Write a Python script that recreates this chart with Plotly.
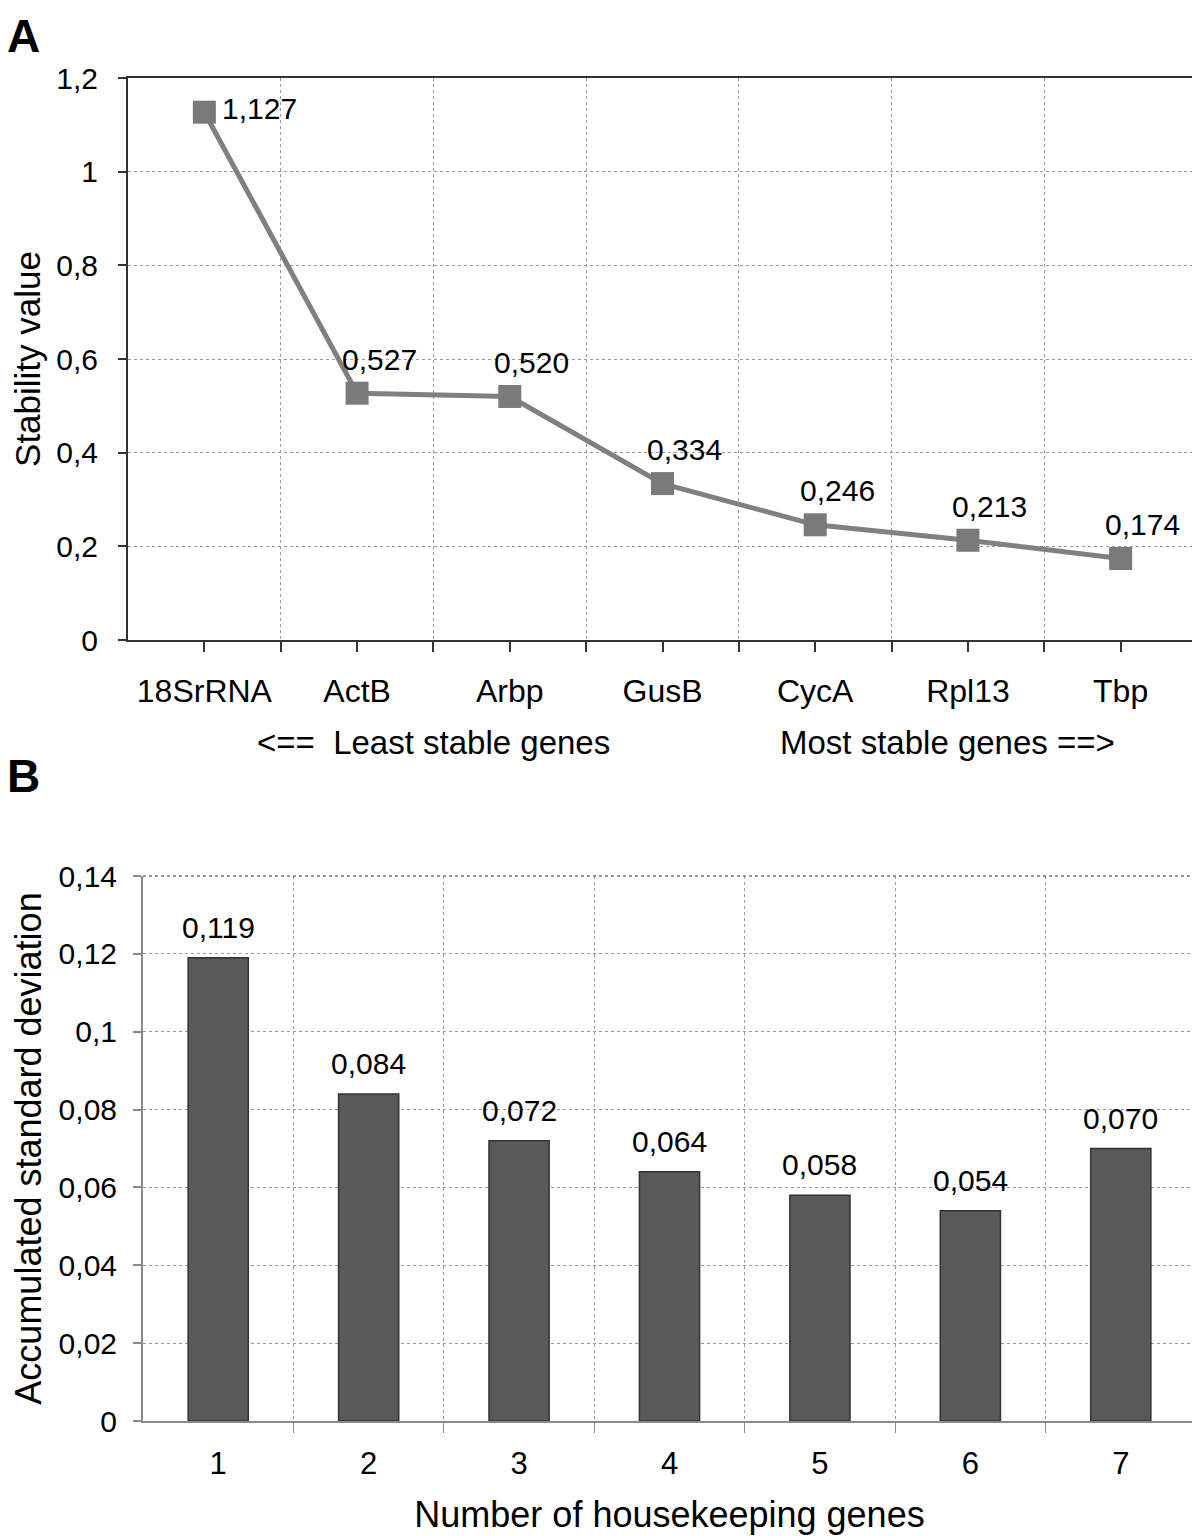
import plotly.graph_objects as go

# Panel A: gene stability values (least -> most stable)
genes = ["18SrRNA", "ActB", "Arbp", "GusB", "CycA", "Rpl13", "Tbp"]
stability = [1.127, 0.527, 0.520, 0.334, 0.246, 0.213, 0.174]

# Panel B: accumulated standard deviation per number of housekeeping genes
n_genes = [1, 2, 3, 4, 5, 6, 7]
acc_sd = [0.119, 0.084, 0.072, 0.064, 0.058, 0.054, 0.070]

# page body has an 8px margin, so the figure is a bit smaller than the window
OFF = 8
W, H = 1200 - OFF, 1536 - OFF
FONT = "Liberation Sans, Arial, Helvetica, sans-serif"


def px_x(v):
    return (v - OFF) / W


def px_y(v):
    return 1 - (v - OFF) / H


def fmt(v):
    return f"{v:.3f}".replace(".", ",")


gene_pos = list(range(len(genes)))

fig = go.Figure()

fig.add_trace(go.Scatter(
    x=gene_pos, y=stability,
    mode="lines+markers",
    line=dict(color="#808080", width=5),
    marker=dict(symbol="square", size=23, color="#7a7a7a"),
    xaxis="x", yaxis="y",
    showlegend=False,
))

fig.add_trace(go.Bar(
    x=n_genes, y=acc_sd,
    width=0.4,
    marker=dict(color="#595959", line=dict(color="#333333", width=1.5)),
    xaxis="x2", yaxis="y2",
    showlegend=False,
))

annotations = []
# value labels panel A
for i, (p, v) in enumerate(zip(gene_pos, stability)):
    if i == 0:
        annotations.append(dict(x=p, y=v, xref="x", yref="y", text=fmt(v),
                                showarrow=False, xanchor="left", xshift=16,
                                yshift=4, font=dict(size=30)))
    else:
        annotations.append(dict(x=p, y=v, xref="x", yref="y", text=fmt(v),
                                showarrow=False, xshift=22, yshift=34,
                                font=dict(size=30)))
# value labels panel B
for n, v in zip(n_genes, acc_sd):
    annotations.append(dict(x=n, y=v, xref="x2", yref="y2", text=fmt(v),
                            showarrow=False, yanchor="bottom", yshift=12,
                            font=dict(size=30)))

# stability direction labels under panel A
annotations.append(dict(x=px_x(433), y=px_y(742), xref="paper", yref="paper",
                        text="<==  Least stable genes", showarrow=False,
                        xanchor="center", yanchor="middle",
                        font=dict(size=33)))
annotations.append(dict(x=px_x(947), y=px_y(742), xref="paper", yref="paper",
                        text="Most stable genes ==>", showarrow=False,
                        xanchor="center", yanchor="middle",
                        font=dict(size=33)))
# panel letters
annotations.append(dict(x=px_x(5), y=px_y(8), xref="paper", yref="paper",
                        text="<b>A</b>", showarrow=False, xanchor="left",
                        yanchor="top", font=dict(size=46)))
annotations.append(dict(x=px_x(5), y=px_y(748), xref="paper", yref="paper",
                        text="<b>B</b>", showarrow=False, xanchor="left",
                        yanchor="top", font=dict(size=46)))

grid = dict(showgrid=True, gridcolor="#9a9a9a", griddash="dot", gridwidth=1)

# dotted frame on top / right of panel B
shapes = [
    dict(type="line", xref="x2 domain", yref="y2 domain", x0=0, x1=1, y0=1, y1=1,
         line=dict(color="#777777", width=1.5, dash="dot")),
    dict(type="line", xref="x2 domain", yref="y2 domain", x0=1, x1=1, y0=0, y1=1,
         line=dict(color="#777777", width=1.5, dash="dot")),
]

fig.update_layout(
    width=W, height=H,
    margin=dict(l=0, r=0, t=0, b=0),
    plot_bgcolor="white",
    paper_bgcolor="white",
    separators=", ",
    font=dict(family=FONT, color="black", size=30),
    annotations=annotations,
    shapes=shapes,
    xaxis=dict(
        domain=[px_x(128), px_x(1197)],
        anchor="y", automargin=False,
        range=[-0.5, len(genes) - 0.5],
        tickmode="array", tickvals=gene_pos, ticktext=genes,
        tickfont=dict(size=32),
        ticks="outside", ticklen=10, tickcolor="#333333", tickwidth=1.5,
        ticklabelstandoff=12,
        showline=True, linecolor="#333333", linewidth=2, mirror=True,
        showgrid=False, zeroline=False,
        minor=dict(tickmode="array",
                   tickvals=[p + 0.5 for p in gene_pos[:-1]],
                   ticks="outside", ticklen=10, tickcolor="#333333",
                   **grid),
    ),
    yaxis=dict(
        domain=[px_y(640), px_y(78)],
        anchor="x", automargin=False,
        range=[0, 1.2], dtick=0.2,
        tickfont=dict(size=30),
        ticks="outside", ticklen=8, tickcolor="#333333", tickwidth=1.5,
        ticklabelstandoff=14,
        showline=True, linecolor="#333333", linewidth=2, mirror=True,
        zeroline=False,
        title=dict(text="Stability value", font=dict(size=35), standoff=10),
        **grid,
    ),
    xaxis2=dict(
        domain=[px_x(143), px_x(1196)],
        anchor="y2", automargin=False,
        range=[0.5, len(n_genes) + 0.5],
        tickmode="array", tickvals=n_genes,
        tickfont=dict(size=31),
        ticks="", ticklabelstandoff=14,
        showline=True, linecolor="#8a8a8a", linewidth=2,
        showgrid=False, zeroline=False,
        title=dict(text="Number of housekeeping genes", font=dict(size=36),
                   standoff=22),
        minor=dict(tickmode="array",
                   tickvals=[n + 0.5 for n in n_genes],
                   ticks="outside", ticklen=10, tickcolor="#8a8a8a",
                   **grid),
    ),
    yaxis2=dict(
        domain=[px_y(1421), px_y(876)],
        anchor="x2", automargin=False,
        range=[0, 0.14], dtick=0.02,
        tickfont=dict(size=30),
        ticks="outside", ticklen=8, tickcolor="#8a8a8a", tickwidth=1.5,
        ticklabelstandoff=10,
        showline=True, linecolor="#8a8a8a", linewidth=2,
        zeroline=False,
        title=dict(text="Accumulated standard deviation", font=dict(size=36),
                   standoff=14),
        **grid,
    ),
)

fig.write_html("out.html")
